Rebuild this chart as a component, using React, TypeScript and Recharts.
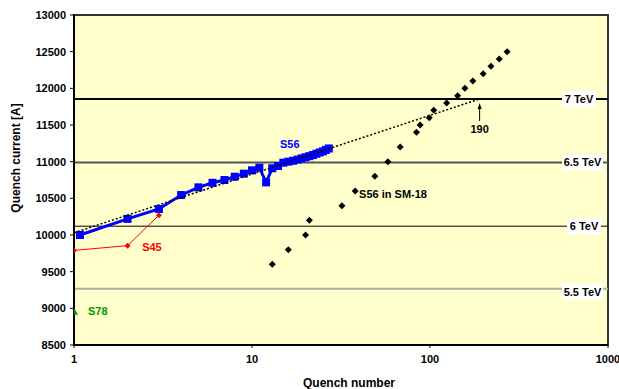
import { ScatterChart, Scatter, XAxis, YAxis, ReferenceLine, ReferenceArea } from 'recharts';

const FONT = 'Arial, "Liberation Sans", sans-serif';

// S56 in the tunnel
const s56Quench = [1.08, 2, 3, 4, 5, 6, 7, 8, 9, 10, 11, 12, 13, 14, 15, 16, 17, 18, 19, 20, 21, 22, 23, 24, 25, 26, 27];
const s56Current = [10000, 10220, 10355, 10545, 10650, 10712, 10750, 10795, 10836, 10882, 10918, 10718, 10910, 10941, 10986, 11000, 11012, 11028, 11045, 11060, 11075, 11090, 11108, 11125, 11140, 11160, 11180];

// S45
const s45Quench = [1, 2, 3];
const s45Current = [9790, 9855, 10270];

// S78
const s78Quench = [1];
const s78Current = [8955];

// S56 magnets trained in SM-18
const sm18Quench = [13, 16, 20, 21, 32, 38, 49, 58, 68, 84, 88, 99, 105, 124, 143, 157, 174, 199, 220, 245, 271];
const sm18Current = [9600, 9800, 10000, 10200, 10400, 10600, 10800, 11000, 11200, 11400, 11500, 11600, 11700, 11800, 11900, 12000, 12100, 12200, 12300, 12400, 12500];

// log fit of S56, reaching 7 TeV at quench 190
const trendQuench = [1, 190];
const trendCurrent = [10030, 11855];

const yTicks = [8500, 9000, 9500, 10000, 10500, 11000, 11500, 12000, 12500, 13000];
const xTicks = [1, 10, 100, 1000];

const energyLabels = ['7 TeV', '6.5 TeV', '6 TeV', '5.5 TeV'];
const energyCurrents = [11855, 10990, 10120, 9268];

const seriesLabels = ['S56', 'S45', 'S78', 'S56 in SM-18'];
const labelQuench = [16.3, 2.74, 1.36, 62];
const labelCurrent = [11241, 9836, 8964, 10559];
const labelColors = ['#0000FF', '#FF0000', '#009900', '#000000'];

const zip = (xs: number[], ys: number[]) => xs.map((x, i) => ({ x, y: ys[i] }));

const s56 = zip(s56Quench, s56Current);
const s45 = zip(s45Quench, s45Current);
const s78 = zip(s78Quench, s78Current);
const sm18 = zip(sm18Quench, sm18Current);
const trend = zip(trendQuench, trendCurrent);
const notes = labelQuench.map((x, i) => ({ x, y: labelCurrent[i], text: seriesLabels[i], color: labelColors[i] }));
const marker190 = [{ x: 190, y: 11445 }];

const lineStyles = [
  { stroke: '#000000', width: 2, right: 596, w: 34 },
  { stroke: '#555555', width: 2, right: 603, w: 41 },
  { stroke: '#000000', width: 1, right: 601, w: 34 },
  { stroke: '#AAAAAA', width: 2, right: 603, w: 41 },
];

const TevLabel = (props: any) => {
  const { viewBox, text, right, w, dy } = props;
  const cy = viewBox.y + (dy ?? 0);
  return (
    <g>
      <rect x={right - w} y={cy - 8} width={w} height={16} fill="#FFFFFF" />
      <text x={right - w / 2} y={cy} textAnchor="middle" dominantBaseline="central" fontFamily={FONT} fontWeight="bold" fontSize={11} fill="#000">
        {text}
      </text>
    </g>
  );
};

const square = (p: any) => <rect x={p.cx - 4} y={p.cy - 4} width={8} height={8} fill="#0000FF" />;
const diamond = (color: string, r: number) => (p: any) => (
  <polygon points={`${p.cx},${p.cy - r} ${p.cx + r},${p.cy} ${p.cx},${p.cy + r} ${p.cx - r},${p.cy}`} fill={color} />
);
const triangle = (p: any) => <polygon points={`${p.cx},${p.cy - 4} ${p.cx + 4},${p.cy + 3} ${p.cx - 4},${p.cy + 3}`} fill="#009900" />;
const noMark = () => <g />;
const noteText = (p: any) => (
  <text x={p.cx} y={p.cy} textAnchor="middle" dominantBaseline="central" fontFamily={FONT} fontWeight="bold" fontSize={11} fill={p.payload.color}>
    {p.payload.text}
  </text>
);
const arrow190 = (p: any) => (
  <g>
    <line x1={p.cx} y1={p.cy - 8} x2={p.cx} y2={p.cy - 22} stroke="#000" strokeWidth={1} />
    <polygon points={`${p.cx},${p.cy - 26} ${p.cx + 2},${p.cy - 20} ${p.cx - 2},${p.cy - 20}`} fill="#000" />
    <text x={p.cx} y={p.cy} textAnchor="middle" dominantBaseline="central" fontFamily={FONT} fontWeight="bold" fontSize={11} fill="#000">190</text>
  </g>
);

export default function App() {
  return (
    <div style={{ position: 'absolute', left: 0, top: 0, background: '#fff' }}>
      <ScatterChart width={619} height={389} margin={{ top: 15, right: 11, bottom: 0, left: 0 }}>
        <XAxis
          type="number"
          dataKey="x"
          scale="log"
          domain={[1, 1000]}
          ticks={xTicks}
          allowDataOverflow
          height={44}
          tickSize={3}
          tickMargin={7}
          axisLine={{ stroke: '#000', strokeWidth: 2 }}
          tickLine={{ stroke: '#000' }}
          tick={{ fontSize: 11, fontWeight: 'bold', fill: '#000', fontFamily: FONT }}
          label={{ value: 'Quench number', position: 'insideBottom', offset: 2, dx: 8, fontSize: 12, fontWeight: 'bold', fill: '#000', fontFamily: FONT }}
        />
        <YAxis
          type="number"
          dataKey="y"
          domain={[8500, 13000]}
          ticks={yTicks}
          allowDataOverflow
          width={74}
          tickSize={4}
          tickMargin={4}
          axisLine={{ stroke: '#000', strokeWidth: 2 }}
          tickLine={{ stroke: '#000' }}
          tick={{ fontSize: 11, fontWeight: 'bold', fill: '#000', fontFamily: FONT }}
          label={{
            content: () => (
              <text transform="translate(16,158) rotate(-90)" textAnchor="middle" dominantBaseline="central" fontFamily={FONT} fontWeight="bold" fontSize={12} fill="#000">
                Quench current [A]
              </text>
            ),
          }}
        />
        <ReferenceArea x1={1} x2={1000} y1={8500} y2={13000} fill="#FFFFCC" fillOpacity={1} stroke="#333" strokeWidth={2} />
        {energyLabels.map((t, i) => (
          <ReferenceLine
            key={t}
            y={energyCurrents[i]}
            stroke={lineStyles[i].stroke}
            strokeWidth={lineStyles[i].width}
            label={<TevLabel text={t} right={lineStyles[i].right} w={lineStyles[i].w} dy={i === 3 ? 3 : 0} />}
          />
        ))}
        <Scatter data={s45} shape={diamond('#FF0000', 3)} line={{ stroke: '#FF0000', strokeWidth: 1 }} isAnimationActive={false} />
        <Scatter data={s56} shape={square} line={{ stroke: '#0000FF', strokeWidth: 3 }} isAnimationActive={false} />
        <Scatter data={trend} shape={noMark} line={{ stroke: '#000', strokeWidth: 1.5, strokeDasharray: '2 2' }} isAnimationActive={false} />
        <Scatter data={sm18} shape={diamond('#000000', 3.5)} isAnimationActive={false} />
        <Scatter data={s78} shape={triangle} isAnimationActive={false} />
        <Scatter data={marker190} shape={arrow190} isAnimationActive={false} />
        <Scatter data={notes} shape={noteText} isAnimationActive={false} />
      </ScatterChart>
    </div>
  );
}
